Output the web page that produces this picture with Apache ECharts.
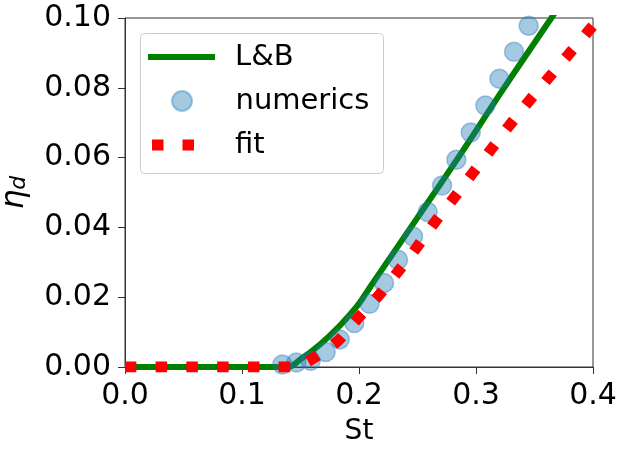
<!DOCTYPE html>
<html>
<head>
<meta charset="utf-8">
<script src="https://cdn.jsdelivr.net/npm/echarts@6/dist/echarts.min.js"></script>
<style>
  html, body { margin: 0; padding: 0; background: #fff; }
  #chart { width: 620px; height: 450px; }
</style>
</head>
<body>
<div id="chart"></div>
<script>
// L&B curve
var lbSt = [0, 0.139, 0.15, 0.1664, 0.1835, 0.1978, 0.2063, 0.2135, 0.25, 0.2864, 0.3244, 0.3644, 0.37];
var lbEta = [0, 0, 0.0022, 0.0064, 0.0118, 0.0172, 0.0213, 0.0249, 0.0428, 0.0608, 0.0802, 0.1, 0.1028];

// numerics
var numSt = [0.1345, 0.1465, 0.1587, 0.1715, 0.1835, 0.196, 0.209, 0.2214, 0.2333, 0.2462, 0.2587, 0.271, 0.2832, 0.2955, 0.308, 0.32, 0.3325, 0.345];
var numEta = [0.0007, 0.0013, 0.0018, 0.0043, 0.0079, 0.0126, 0.0181, 0.0241, 0.0307, 0.0374, 0.0444, 0.052, 0.0594, 0.0672, 0.0749, 0.0826, 0.0903, 0.0978];

// fit
var fitSt = [0, 0.145, 0.16, 0.182, 0.1986, 0.2166, 0.2328, 0.249, 0.2644, 0.2803, 0.2966, 0.3123, 0.3285, 0.345, 0.3619, 0.379, 0.3957, 0.4];
var fitEta = [0, 0, 0.0023, 0.0075, 0.0138, 0.0204, 0.0271, 0.0341, 0.0413, 0.0481, 0.0553, 0.0621, 0.0692, 0.0761, 0.0828, 0.0895, 0.0961, 0.0978];

var FONT = "DejaVu Sans";

function pairs(xs, ys) {
  var out = [];
  for (var i = 0; i < xs.length; i++) {
    out.push([xs[i], ys[i]]);
  }
  return out;
}

var chart = echarts.init(document.getElementById("chart"));

var legendText = {
  fontFamily: FONT,
  fontSize: 29,
  lineHeight: 30,
  color: "#000",
  padding: [0, 0, 0, 15],
};

var option = {
  animation: false,
  grid: {
    left: 125,
    right: 27,
    top: 18,
    bottom: 83,
    outerBoundsMode: "none",
    containLabel: false,
    show: true,
    borderColor: "#333",
    borderWidth: 1,
    backgroundColor: "transparent",
  },
  xAxis: {
    type: "value",
    min: 0,
    max: 0.4,
    interval: 0.1,
    name: "St",
    nameLocation: "middle",
    nameGap: 51,
    nameTextStyle: { fontFamily: FONT, fontSize: 28, color: "#000" },
    axisLine: { show: true, lineStyle: { color: "#333", width: 1 } },
    axisTick: { show: true, inside: false, length: 7, lineStyle: { color: "#333" } },
    axisLabel: {
      fontFamily: FONT,
      fontSize: 30,
      color: "#000",
      margin: 14,
      formatter: function (v) { return v.toFixed(1); },
    },
    splitLine: { show: false },
  },
  yAxis: {
    type: "value",
    min: 0,
    max: 0.1,
    interval: 0.02,
    name: "{eta|η}{sub|d}",
    nameLocation: "middle",
    nameRotate: 90,
    nameGap: 95,
    nameTextStyle: {
      rich: {
        eta: { fontFamily: FONT, fontStyle: "italic", fontSize: 31, lineHeight: 31, verticalAlign: "top", color: "#000" },
        sub: { fontFamily: FONT, fontStyle: "italic", fontSize: 22, lineHeight: 22, verticalAlign: "bottom", padding: [13, 0, 0, 0], color: "#000" },
      },
    },
    axisLine: { show: true, lineStyle: { color: "#333", width: 1 } },
    axisTick: { show: true, inside: false, length: 7, lineStyle: { color: "#333" } },
    axisLabel: {
      fontFamily: FONT,
      fontSize: 30,
      color: "#000",
      margin: 14,
      formatter: function (v) { return v.toFixed(2); },
    },
    splitLine: { show: false },
  },
  graphic: [
    {
      type: "rect",
      left: 140,
      top: 33,
      z: 10,
      shape: { width: 243, height: 140, r: 4 },
      style: { fill: "rgba(255,255,255,0.8)", stroke: "#cccccc", lineWidth: 1 },
    },
  ],
  legend: [
    {
      data: [{ name: "L&B", icon: "rect" }],
      left: 148,
      top: 42,
      padding: 0,
      itemWidth: 67,
      itemHeight: 6,
      selectedMode: false,
      z: 20,
      textStyle: legendText,
    },
    {
      data: [{ name: "numerics", icon: "circle" }],
      left: 171,
      top: 86,
      padding: 0,
      itemWidth: 67,
      itemHeight: 20,
      selectedMode: false,
      z: 20,
      textStyle: legendText,
    },
    {
      data: [{
        name: "fit",
        icon: "path://M0,0h0.01v0.01h-0.01z M4,0h11.5v11h-11.5z M34.5,0h11.5v11h-11.5z M66.99,10.99h0.01v0.01h-0.01z",
      }],
      left: 148,
      top: 130,
      padding: 0,
      itemWidth: 67,
      itemHeight: 11,
      selectedMode: false,
      z: 20,
      textStyle: legendText,
    },
  ],
  series: [
    {
      name: "L&B",
      type: "line",
      data: pairs(lbSt, lbEta),
      smooth: 0.4,
      showSymbol: false,
      symbol: "none",
      z: 2,
      color: "#008000",
      lineStyle: { color: "#008000", width: 6 },
    },
    {
      name: "numerics",
      type: "scatter",
      data: pairs(numSt, numEta),
      symbol: "circle",
      symbolSize: 19,
      z: 3,
      itemStyle: {
        color: "rgba(31,119,180,0.5)",
        borderColor: "rgba(31,119,180,0.5)",
        borderWidth: 1.5,
      },
    },
    {
      name: "fit",
      type: "line",
      data: pairs(fitSt, fitEta),
      smooth: 0.2,
      showSymbol: false,
      symbol: "none",
      z: 4,
      color: "#ff0000",
      lineStyle: { color: "#ff0000", width: 11, type: [11.5, 19.2], cap: "butt" },
    },
  ],
};

chart.setOption(option);
</script>
</body>
</html>
